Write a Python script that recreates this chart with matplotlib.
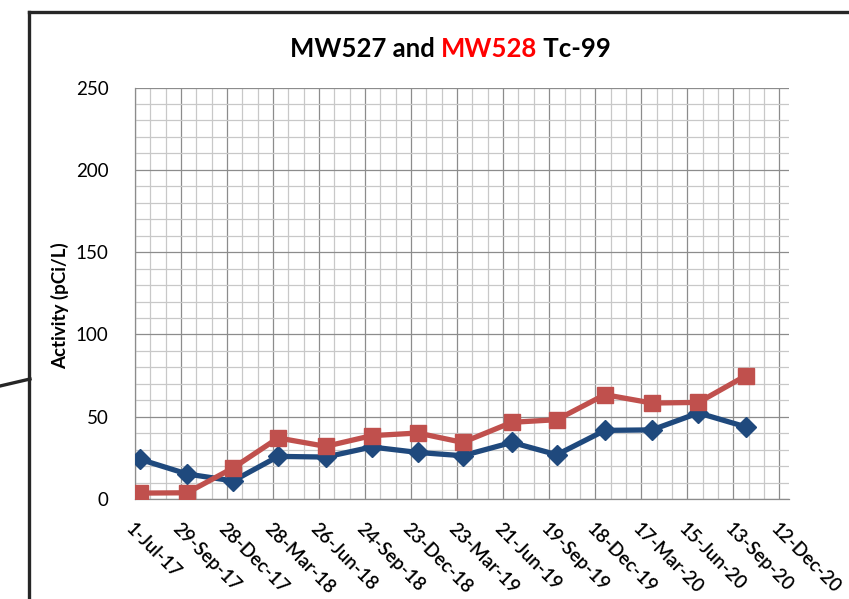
import datetime as dt
import numpy as np
import matplotlib
matplotlib.use('Agg')
import matplotlib.pyplot as plt
from matplotlib.lines import Line2D

plt.rcParams['font.family'] = ['Lato', 'DejaVu Sans']

# sample dates (roughly quarterly) and Tc-99 activity, pCi/L
sample_dates = ['2017-07-11', '2017-10-11', '2018-01-09', '2018-04-07', '2018-07-09',
                '2018-10-07', '2019-01-05', '2019-04-03', '2019-07-08', '2019-10-04',
                '2020-01-06', '2020-04-07', '2020-07-07', '2020-10-08']
mw527 = [24.1, 15.2, 11.0, 25.9, 25.5, 31.6, 28.3, 26.3, 34.4, 26.9, 41.7, 42.0, 52.3, 43.8]
mw528 = [3.6, 3.8, 18.9, 37.1, 32.0, 38.5, 40.1, 34.4, 46.6, 48.2, 63.4, 58.3, 58.7, 75.0]

tick_labels = ['1-Jul-17', '29-Sep-17', '28-Dec-17', '28-Mar-18', '26-Jun-18', '24-Sep-18',
               '23-Dec-18', '23-Mar-19', '21-Jun-19', '19-Sep-19', '18-Dec-19', '17-Mar-20',
               '15-Jun-20', '13-Sep-20', '12-Dec-20']
y_ticks = [0, 50, 100, 150, 200, 250]

x = [dt.datetime.strptime(d, '%Y-%m-%d') for d in sample_dates]
x_start = dt.datetime(2017, 7, 1)
x_end = dt.datetime(2020, 12, 31)
major_ticks = [x_start + dt.timedelta(days=90 * i) for i in range(len(tick_labels))]
minor_ticks = [x_start + dt.timedelta(days=30 * i) for i in range(43)]

fig = plt.figure(figsize=(8.49, 5.99), dpi=100)
ax = fig.add_axes([0.159, 0.1669, 0.7703, 0.687])

blue = '#1F497D'
red = '#C0504D'
ax.plot(x, mw527, color=blue, lw=3.8, marker='D', ms=10, mfc=blue, mec=blue, zorder=3)
ax.plot(x, mw528, color=red, lw=3.8, marker='s', ms=11.5, mfc=red, mec=red, zorder=4)

ax.set_xlim(x_start, x_end)
ax.set_ylim(0, 250)
ax.set_yticks(y_ticks)
ax.set_yticks(np.arange(0, 251, 10), minor=True)
ax.set_xticks(major_ticks)
ax.set_xticks(minor_ticks, minor=True)
ax.set_xticklabels(tick_labels, rotation=-45, ha='left', rotation_mode='anchor',
                   fontsize=13.5, fontweight='semibold')
ax.tick_params(axis='y', labelsize=13.5)
ax.tick_params(which='both', length=0)
ax.tick_params(axis='x', pad=15)
ax.tick_params(axis='y', pad=19)

ax.grid(which='major', color='#8c8c8c', lw=0.9)
ax.grid(which='minor', color='#c8c8c8', lw=0.9)
ax.set_axisbelow(True)
for s in ['top', 'right']:
    ax.spines[s].set_visible(False)
for s in ['left', 'bottom']:
    ax.spines[s].set_color('#8c8c8c')
    ax.spines[s].set_linewidth(0.9)

ax.set_ylabel('Activity (pCi/L)', fontsize=13.5, fontweight='bold')
ax.yaxis.set_label_coords(-0.1, 0.47)

# title in three colours
t1 = fig.text(0.345, 0.9048, 'MW527 and ', fontsize=18.5, fontweight='bold', ha='left', va='baseline')
t2 = fig.text(0, 0, 'MW528', fontsize=18.5, fontweight='bold', color='#FF0000', va='baseline')
t3 = fig.text(0, 0, ' Tc-99', fontsize=18.5, fontweight='bold', va='baseline')
fig.canvas.draw()
r = fig.canvas.get_renderer()
w1 = t1.get_window_extent(r).width
w2 = t2.get_window_extent(r).width
w3 = t3.get_window_extent(r).width
total = w1 + w2 + w3
x0 = 450.5 - total / 2
W = fig.bbox.width
t1.set_x(x0 / W)
t2.set_x((x0 + w1) / W)
t2.set_y(0.9048)
t3.set_x((x0 + w1 + w2) / W)
t3.set_y(0.9048)

# outer frame and callout line
H = 599.0
fig.add_artist(Line2D([29 / 849, 29 / 849], [0, 1 - 12 / H], color='#262626', lw=2.4))
fig.add_artist(Line2D([29 / 849, 1], [1 - 12 / H, 1 - 12 / H], color='#262626', lw=2.4))
fig.add_artist(Line2D([0, 30 / 849], [1 - 386 / H, 1 - 379 / H], color='#262626', lw=2.4))

fig.savefig('out.png', dpi=100)
